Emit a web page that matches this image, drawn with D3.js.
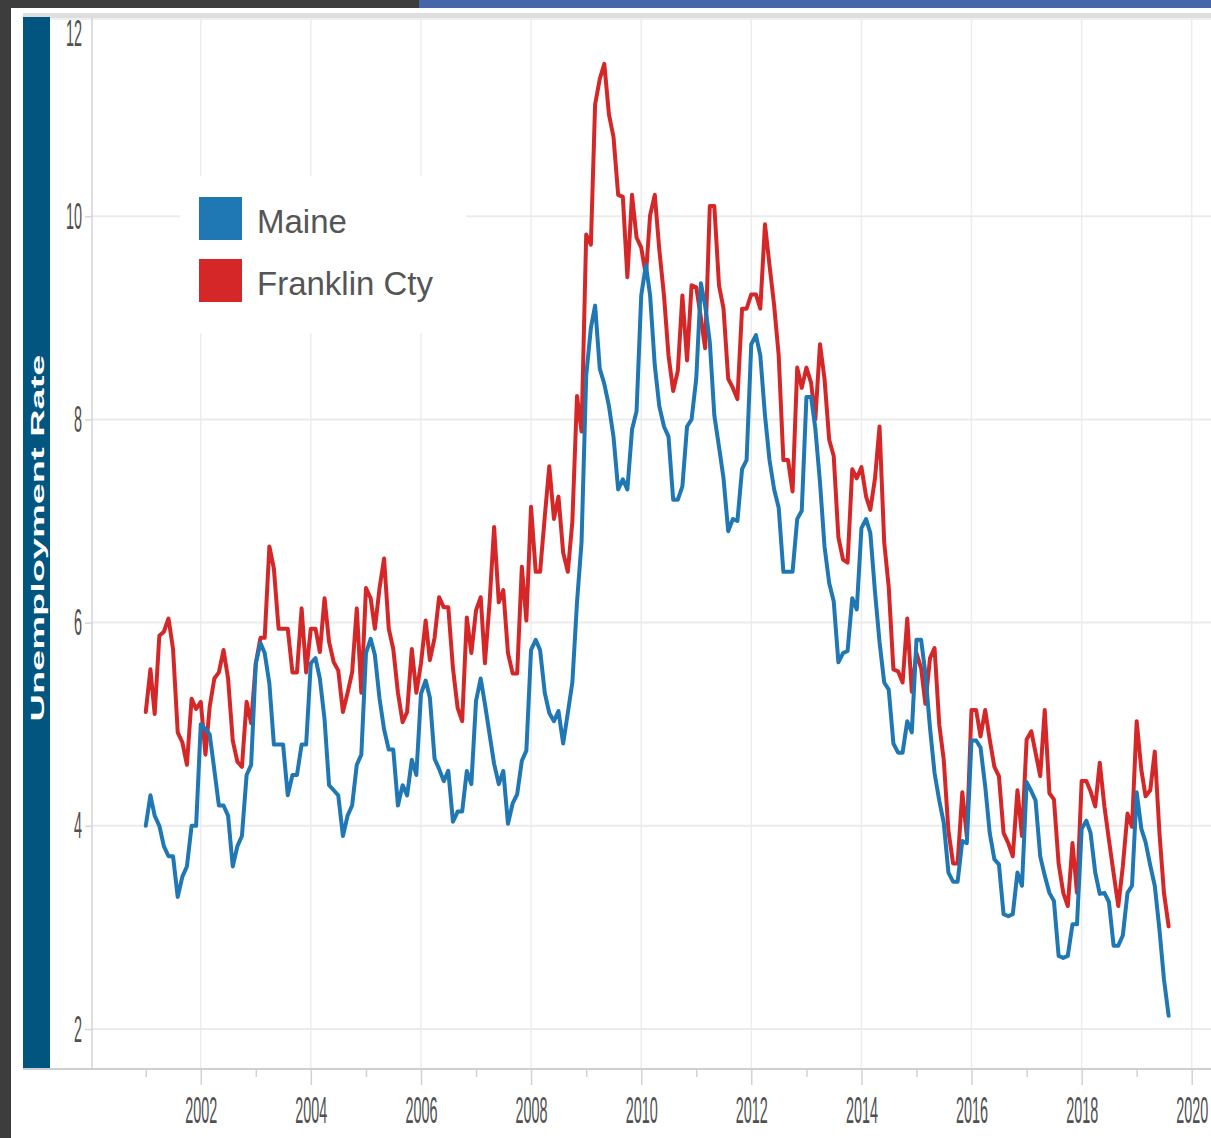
<!DOCTYPE html>
<html>
<head>
<meta charset="utf-8">
<script src="https://cdn.jsdelivr.net/npm/d3@7"></script>
<style>
  html, body { margin: 0; padding: 0; background: #3d3d3d; }
  svg { display: block; }
</style>
</head>
<body>
<div id="chart"></div>
<script>
// monthly unemployment rate, Jan 2001 .. Aug 2019
const maine = [
  4.0, 4.3, 4.1, 4.0, 3.8, 3.7, 3.7, 3.3, 3.5, 3.6, 4.0, 4.0,
  5.0, 4.95, 4.9, 4.55, 4.2, 4.2, 4.1, 3.6, 3.8, 3.9, 4.5, 4.6,
  5.6, 5.8, 5.7, 5.4, 4.8, 4.8, 4.8, 4.3, 4.5, 4.5, 4.8, 4.8,
  5.6, 5.65, 5.45, 5.05, 4.4, 4.35, 4.3, 3.9, 4.1, 4.2, 4.6, 4.7,
  5.7, 5.84, 5.68, 5.25, 4.95, 4.75, 4.75, 4.2, 4.4, 4.3, 4.65, 4.5,
  5.3, 5.43, 5.26, 4.66, 4.56, 4.44, 4.54, 4.04, 4.14, 4.14, 4.54, 4.41,
  5.23, 5.45, 5.2, 4.9, 4.61, 4.41, 4.54, 4.02, 4.22, 4.31, 4.64, 4.74,
  5.73, 5.83, 5.73, 5.31, 5.11, 5.03, 5.13, 4.81, 5.11, 5.41, 6.2, 6.79,
  8.43, 8.9, 9.12, 8.5, 8.35, 8.13, 7.83, 7.31, 7.41, 7.31, 7.9, 8.08,
  9.22, 9.52, 9.22, 8.53, 8.13, 7.93, 7.83, 7.21, 7.21, 7.34, 7.93, 8.0,
  8.4, 9.34, 9.12, 8.76, 8.04, 7.73, 7.42, 6.9, 7.02, 7.0, 7.51, 7.6,
  8.74, 8.83, 8.63, 8.04, 7.6, 7.31, 7.13, 6.5, 6.5, 6.5, 7.02, 7.1,
  8.22, 8.22, 7.91, 7.38, 6.75, 6.39, 6.21, 5.61, 5.7, 5.72, 6.24, 6.13,
  6.93, 7.02, 6.88, 6.3, 5.81, 5.41, 5.34, 4.81, 4.72, 4.72, 5.03, 4.92,
  5.83, 5.83, 5.5, 4.96, 4.52, 4.25, 4.03, 3.54, 3.45, 3.45, 3.85, 3.83,
  4.84, 4.84, 4.77, 4.39, 3.93, 3.67, 3.62, 3.13, 3.11, 3.13, 3.54, 3.41,
  4.43, 4.34, 4.25, 3.7, 3.51, 3.34, 3.26, 2.72, 2.7, 2.72, 3.03, 3.03,
  3.97, 4.05, 3.93, 3.54, 3.33, 3.34, 3.25, 2.82, 2.82, 2.92, 3.34, 3.41,
  4.33, 3.97, 3.84, 3.61, 3.41, 2.98, 2.49, 2.13
];

const franklin = [
  5.12, 5.54, 5.1, 5.87, 5.91, 6.04, 5.74, 4.92, 4.82, 4.6, 5.25, 5.15,
  5.22, 4.7, 5.17, 5.45, 5.51, 5.73, 5.45, 4.84, 4.63, 4.58, 5.22, 5.01,
  5.6, 5.85, 5.85, 6.75, 6.53, 5.94, 5.94, 5.94, 5.51, 5.51, 6.14, 5.51,
  5.94, 5.94, 5.71, 6.24, 5.81, 5.61, 5.53, 5.12, 5.31, 5.51, 6.14, 5.31,
  6.34, 6.24, 5.94, 6.34, 6.63, 5.94, 5.74, 5.31, 5.02, 5.12, 5.74, 5.31,
  5.6, 6.02, 5.63, 5.85, 6.25, 6.15, 6.15, 5.55, 5.16, 5.03, 6.05, 5.7,
  6.12, 6.25, 5.6, 6.2, 6.94, 6.2, 6.32, 5.7, 5.5, 5.5, 6.55, 6.02,
  7.14, 6.5, 6.5, 7.04, 7.54, 7.02, 7.24, 6.69, 6.5, 6.99, 8.23, 7.88,
  9.82, 9.72, 11.1, 11.35, 11.5, 11.0, 10.78, 10.21, 10.19, 9.4, 10.21, 9.79,
  9.69, 9.42, 10.01, 10.21, 9.67, 9.22, 8.63, 8.28, 8.48, 9.22, 8.58, 9.32,
  9.3, 9.0, 8.7, 10.1, 10.1, 9.32, 9.09, 8.4, 8.31, 8.2, 9.09, 9.09,
  9.23, 9.23, 9.09, 9.92, 9.52, 9.12, 8.63, 7.6, 7.6, 7.29, 8.51, 8.31,
  8.51, 8.36, 8.0, 8.74, 8.4, 7.8, 7.64, 6.84, 6.62, 6.59, 7.51, 7.42,
  7.53, 7.24, 7.11, 7.42, 7.93, 6.79, 6.35, 5.54, 5.52, 5.41, 6.04, 5.32,
  5.7, 5.55, 5.2, 5.65, 5.75, 5.0, 4.65, 3.95, 3.63, 3.63, 4.33, 3.9,
  5.14, 5.14, 4.88, 5.14, 4.85, 4.58, 4.49, 3.93, 3.83, 3.7, 4.35, 3.9,
  4.85, 4.93, 4.72, 4.49, 5.14, 4.32, 4.26, 3.63, 3.34, 3.21, 3.83, 3.34,
  4.44, 4.44, 4.34, 4.19, 4.62, 4.19, 3.86, 3.53, 3.21, 3.6, 4.12, 3.99,
  5.03, 4.55, 4.29, 4.35, 4.73, 3.93, 3.34, 3.01
];

const seriesNames = ["Maine", "Franklin Cty"];
const seriesColors = ["#1f77b4", "#d62728"];
const yTicks = [2, 4, 6, 8, 10, 12];
const xTickYears = [2001, 2002, 2003, 2004, 2005, 2006, 2007, 2008, 2009, 2010,
                    2011, 2012, 2013, 2014, 2015, 2016, 2017, 2018, 2019, 2020];
const yTitle = "Unemployment Rate";

const W = 1211, H = 1138;
const plotLeft = 92, plotRight = 1211, plotTop = 18, plotBottom = 1069;

const months = d3.timeMonth.range(new Date(2001, 0, 1), new Date(2019, 8, 1));

const svg = d3.select("#chart")
    .append("svg")
    .attr("width", W)
    .attr("height", H);

// page frame
svg.append("rect").attr("width", W).attr("height", H).attr("fill", "#3d3d3d");
svg.append("rect").attr("x", 11).attr("y", 8).attr("width", W - 11).attr("height", H - 8).attr("fill", "#ffffff");
svg.append("rect").attr("x", 419).attr("y", 0).attr("width", W - 419).attr("height", 8).attr("fill", "#4566a8");
svg.append("rect").attr("x", 23).attr("y", 13).attr("width", W - 23).attr("height", 5).attr("fill", "#dedede");
svg.append("rect").attr("x", 23).attr("y", 18).attr("width", W - 23).attr("height", 2).attr("fill", "#efefef");

const x = d3.scaleTime()
    .domain([new Date(2000, 0, 1), new Date(2020, 0, 1)])
    .range([90.6, 1191.7]);

const y = d3.scaleLinear()
    .domain([2, 12])
    .range([1029, 13]);

// gridlines
svg.append("g")
    .selectAll("line")
    .data(xTickYears.filter(yr => yr % 2 === 0))
    .join("line")
    .attr("x1", d => x(new Date(d, 0, 1)))
    .attr("x2", d => x(new Date(d, 0, 1)))
    .attr("y1", 20)
    .attr("y2", plotBottom)
    .attr("stroke", "#ededed")
    .attr("stroke-width", 1.5);

svg.append("g")
    .selectAll("line")
    .data(yTicks.filter(v => v < 12))
    .join("line")
    .attr("x1", plotLeft)
    .attr("x2", plotRight)
    .attr("y1", d => y(d))
    .attr("y2", d => y(d))
    .attr("stroke", "#ebebeb")
    .attr("stroke-width", 2);

// y title bar
svg.append("rect")
    .attr("x", 23).attr("y", 17)
    .attr("width", 27).attr("height", plotBottom - 17)
    .attr("fill", "#02557e");

svg.append("text")
    .attr("transform", "translate(44,538) rotate(-90)")
    .attr("text-anchor", "middle")
    .attr("fill", "#ffffff")
    .attr("font-family", "Liberation Sans, Arial, sans-serif")
    .attr("font-weight", 700)
    .attr("font-size", "18px")
    .attr("textLength", 367)
    .attr("lengthAdjust", "spacingAndGlyphs")
    .text(yTitle);

// y axis
const yAxis = svg.append("g")
    .attr("transform", `translate(${plotLeft},0)`)
    .call(d3.axisLeft(y).tickValues(yTicks).tickSize(7).tickFormat(d3.format("d")));
yAxis.select(".domain").remove();
yAxis.selectAll(".tick line").attr("stroke", "#d6d6d6").attr("stroke-width", 1.5);
yAxis.selectAll(".tick text")
    .attr("font-family", "Liberation Sans, Arial, sans-serif")
    .attr("font-size", "36px")
    .attr("fill", "#505050")
    .attr("transform", "scale(0.4,1)")
    .attr("x", -25)
    .attr("dy", 0)
    .attr("y", d => d === 12 ? 32 : 12);
yAxis.selectAll(".tick").filter(d => d === 12).select("line").remove();

svg.append("line")
    .attr("x1", plotLeft).attr("x2", plotLeft)
    .attr("y1", plotTop).attr("y2", plotBottom)
    .attr("stroke", "#d4d4d4").attr("stroke-width", 1.5);

// x axis
const xAxis = svg.append("g")
    .attr("transform", `translate(0,${plotBottom})`)
    .call(d3.axisBottom(x)
        .tickValues(xTickYears.map(yr => new Date(yr, 0, 1)))
        .tickFormat(d => d.getFullYear() % 2 === 0 ? d3.timeFormat("%Y")(d) : ""));
xAxis.select(".domain").remove();
xAxis.selectAll(".tick line")
    .attr("stroke", "#d2d2d2")
    .attr("stroke-width", 1.5)
    .attr("y2", d => d.getFullYear() % 2 === 0 ? 16 : 8);
xAxis.selectAll(".tick text")
    .attr("font-family", "Liberation Sans, Arial, sans-serif")
    .attr("font-size", "36px")
    .attr("fill", "#505050")
    .attr("transform", "scale(0.4,1)")
    .attr("dy", 0)
    .attr("y", 54);

svg.append("line")
    .attr("x1", 23).attr("x2", W)
    .attr("y1", plotBottom).attr("y2", plotBottom)
    .attr("stroke", "#cfcfcf").attr("stroke-width", 2);

// lines
const line = d3.line()
    .x((d, i) => x(months[i]))
    .y(d => y(d));

[franklin, maine].forEach((values, k) => {
    svg.append("path")
        .datum(values)
        .attr("fill", "none")
        .attr("stroke", k === 0 ? seriesColors[1] : seriesColors[0])
        .attr("stroke-width", 4)
        .attr("stroke-linejoin", "round")
        .attr("stroke-linecap", "round")
        .attr("d", line);
});

// legend
const legend = svg.append("g");
legend.append("rect")
    .attr("x", 180).attr("y", 176)
    .attr("width", 286).attr("height", 157)
    .attr("fill", "#ffffff");

seriesNames.forEach((name, i) => {
    legend.append("rect")
        .attr("x", 199)
        .attr("y", 197 + i * 62)
        .attr("width", 43)
        .attr("height", 43)
        .attr("fill", seriesColors[i]);

    legend.append("text")
        .attr("x", 257)
        .attr("y", 233 + i * 62)
        .attr("font-family", "Liberation Sans, Arial, sans-serif")
        .attr("font-size", "33px")
        .attr("fill", "#555555")
        .text(name);
});
</script>
</body>
</html>
